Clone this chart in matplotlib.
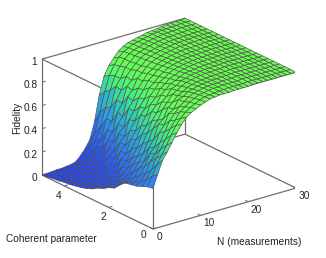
import numpy as np
import matplotlib
matplotlib.use("Agg")
import matplotlib.pyplot as plt
from matplotlib.colors import LinearSegmentedColormap
from mpl_toolkits.mplot3d import proj3d

plt.rcParams['font.family'] = ['Liberation Sans', 'DejaVu Sans']

n_values = list(range(0, 31))
alpha_values = [0, .25, .5, .75, 1, 1.25, 1.5, 1.75, 2, 2.25, 2.5, 2.75, 3, 3.25, 3.5, 3.75, 4, 4.25, 4.5, 4.75, 5]

fidelity = [
 [.35,.46,.57,.63,.70,.77,.83,.88,.91,.93,.95,.965,.98,.985,.99,.99,.99,.995,.995,.995,.995,1,1,1,1,1,1,1,1,1,1],
 [.34,.42,.51,.58,.65,.73,.80,.85,.89,.92,.94,.96,.975,.98,.985,.99,.99,.995,.995,.995,.995,1,1,1,1,1,1,1,1,1,1],
 [.32,.37,.44,.53,.60,.67,.75,.81,.87,.90,.93,.95,.97,.975,.985,.99,.99,.995,.995,.995,.995,1,1,1,1,1,1,1,1,1,1],
 [.30,.33,.39,.48,.53,.62,.70,.78,.83,.88,.91,.94,.96,.97,.98,.985,.99,.99,.995,.995,.995,1,1,1,1,1,1,1,1,1,1],
 [.29,.305,.35,.415,.51,.555,.67,.72,.81,.835,.905,.92,.95,.96,.975,.98,.985,.99,.99,.995,.995,1,1,1,1,1,1,1,1,1,1],
 [.28,.275,.305,.375,.42,.525,.59,.705,.74,.825,.86,.905,.925,.95,.965,.975,.98,.985,.99,.99,.995,.995,1,1,1,1,1,1,1,1,1],
 [.24,.255,.265,.325,.39,.46,.545,.645,.705,.785,.835,.89,.915,.94,.96,.97,.98,.985,.99,.99,.995,.995,1,1,1,1,1,1,1,1,1],
 [.19,.205,.245,.27,.35,.41,.505,.585,.68,.735,.815,.85,.905,.92,.95,.96,.975,.98,.985,.99,.99,.995,.995,1,1,1,1,1,1,1,1],
 [.17,.185,.195,.26,.29,.375,.445,.55,.615,.72,.765,.84,.875,.915,.93,.95,.97,.975,.98,.985,.99,.99,.995,.995,1,1,1,1,1,1,1],
 [.14,.145,.175,.20,.28,.315,.415,.48,.59,.66,.75,.795,.86,.89,.925,.94,.96,.97,.98,.985,.99,.99,.995,.995,1,1,1,1,1,1,1],
 [.12,.125,.135,.185,.21,.315,.345,.46,.52,.64,.69,.785,.83,.88,.905,.935,.955,.965,.975,.98,.985,.99,.99,.995,.995,1,1,1,1,1,1],
 [.09,.095,.125,.14,.20,.24,.345,.385,.50,.57,.68,.735,.82,.85,.895,.92,.945,.96,.97,.98,.985,.99,.99,.995,.995,1,1,1,1,1,1],
 [.07,.085,.085,.13,.15,.225,.26,.385,.425,.56,.62,.725,.78,.85,.88,.92,.94,.955,.965,.975,.98,.985,.99,.99,.995,.995,1,1,1,1,1],
 [.055,.058,.075,.085,.14,.16,.255,.295,.43,.47,.62,.675,.77,.82,.875,.90,.93,.95,.96,.97,.98,.985,.99,.99,.995,.995,1,1,1,1,1],
 [.045,.052,.052,.075,.095,.155,.18,.295,.335,.48,.53,.685,.73,.82,.855,.90,.925,.945,.955,.97,.975,.985,.99,.99,.995,.995,1,1,1,1,1],
 [.035,.038,.042,.048,.075,.10,.17,.205,.325,.38,.54,.605,.74,.78,.855,.88,.92,.94,.955,.965,.975,.98,.99,.99,.995,.995,1,1,1,1,1],
 [.03,.032,.03,.045,.048,.085,.11,.195,.235,.38,.44,.615,.685,.79,.835,.88,.915,.935,.95,.96,.97,.98,.985,.99,.99,.995,.995,1,1,1,1],
 [.02,.02,.022,.028,.045,.055,.095,.12,.225,.275,.44,.53,.695,.75,.835,.87,.91,.93,.945,.96,.97,.975,.985,.99,.99,.995,.995,1,1,1,1],
 [.015,.015,.02,.02,.03,.04,.06,.09,.15,.24,.35,.50,.64,.75,.82,.87,.905,.925,.94,.955,.965,.975,.98,.99,.99,.995,.995,1,1,1,1],
 [.005,.01,.01,.015,.02,.03,.04,.06,.10,.18,.28,.44,.60,.73,.81,.865,.90,.92,.94,.95,.96,.97,.98,.985,.99,.99,.995,.995,1,1,1],
 [0,0,.005,.01,.01,.015,.02,.03,.07,.12,.185,.33,.55,.70,.78,.83,.88,.91,.93,.94,.95,.96,.97,.975,.98,.985,.99,.99,.995,.995,1],
]

z_ticks = [0, .2, .4, .6, .8, 1]
z_tick_labels = ['0', '0.2', '0.4', '0.6', '0.8', '1']
alpha_ticks = [0, 2, 4]
n_ticks = [0, 10, 20, 30]

color_stops = ['#2440ff', '#2658fa', '#2a80f5', '#2aa8dc', '#30d4a8', '#48f474', '#60ff54', '#66ff4c']
stop_pos = [0, .2, .33, .46, .58, .7, .82, 1]
cmap = LinearSegmentedColormap.from_list('fid', list(zip(stop_pos, color_stops)))

W, H = 326, 258
fig = plt.figure(figsize=(W / 100, H / 100), dpi=100, facecolor='white')
ax = fig.add_axes([0, 0, 1, 1], projection='3d', proj_type='ortho', computed_zorder=False)
ax.view_init(elev=21.9, azim=-127.5)
ax.set_xlim(0, 30); ax.set_ylim(0, 5); ax.set_zlim(0, 1)
ax.set_axis_off()
ax.patch.set_alpha(0)

LINE = '#6e6e6e'
A_MAX = 5; N_MAX = 30
def seg(p, q, lw=0.9):
    ax.plot(*zip(p, q), color=LINE, lw=lw, zorder=1, solid_capstyle='butt')

seg((0, 0, 0), (N_MAX, 0, 0))
seg((0, 0, 0), (0, A_MAX, 0))
seg((N_MAX, 0, 0), (N_MAX, A_MAX, 0))
seg((0, A_MAX, 0), (N_MAX, A_MAX, 0))
seg((0, A_MAX, 0), (0, A_MAX, 1))
seg((N_MAX, 0, 0), (N_MAX, 0, 1))
seg((N_MAX, A_MAX, 0), (N_MAX, A_MAX, 1))
seg((0, 0, 0), (0, 0, 1))
seg((0, A_MAX, 1), (N_MAX, A_MAX, 1))
seg((0, A_MAX, 1), (0, 0, 1))
seg((N_MAX, 0, 1), (0, 0, 1))

for z in z_ticks:
    seg((0, A_MAX, z), (0.8, A_MAX, z), 0.7)
for a in alpha_ticks:
    seg((0, a, 0), (0.8, a, 0), 0.7)
for n in n_ticks:
    seg((n, 0, 0), (n, 0.14, 0), 0.7)

NN, AA = np.meshgrid(np.array(n_values, float), np.array(alpha_values, float))
ZZ = np.array(fidelity, float)
ax.plot_surface(NN, AA, ZZ, rstride=1, cstride=1, facecolors=cmap(ZZ), shade=False,
                edgecolor='#505050', linewidth=0.45, antialiased=True, zorder=5)

# Fit the cube to the reference frame: front corner and right corner
def px(p):
    x, y, _ = proj3d.proj_transform(*p, ax.get_proj())
    return ax.transData.transform((x, y))

target_O = np.array([153, H - 229.0])
target_B = np.array([296, H - 188.0])
zoom = 1.0
ax.set_box_aspect((180.3, 182.3, 125.0), zoom=zoom)
for _ in range(3):
    fig.canvas.draw()
    o, b = px((0, 0, 0)), px((N_MAX, 0, 0))
    zoom *= np.linalg.norm(target_B - target_O) / np.linalg.norm(b - o)
    ax.set_box_aspect((180.3, 182.3, 125.0), zoom=zoom)
    fig.canvas.draw()
    o = px((0, 0, 0))
    pos = ax.get_position()
    ax.set_position([pos.x0 + (target_O[0] - o[0]) / W, pos.y0 + (target_O[1] - o[1]) / H, pos.width, pos.height])
fig.canvas.draw()

TICK_FS = 7.3
TEXT = '#222222'
def label(p, s, **kw):
    x, y = px(p)
    fig.text(x / W, y / H, s, fontsize=TICK_FS, color=TEXT, **kw)

for z, lab in zip(z_ticks, z_tick_labels):
    label((-1.0, A_MAX, z - .012), lab, ha='right', va='center')
for a in [2, 4]:
    label((-1.2, a, -.07), str(a), ha='center', va='center')
label((-2.0, 0, -.03), '0', ha='center', va='center')
label((0, -.28, -.04), '0', ha='center', va='center')
for n in n_ticks[1:]:
    label((n, -.36, -.035), str(n), ha='center', va='center')

fig.text(17 / W, 1 - 118 / H, 'Fidelity', rotation=90, ha='center', va='center', fontsize=TICK_FS, color=TEXT)
fig.text(5.5 / W, 1 - 239 / H, 'Coherent parameter', ha='left', va='center', fontsize=TICK_FS, color=TEXT)
fig.text(217 / W, 1 - 242 / H, 'N (measurements)', ha='left', va='center', fontsize=TICK_FS, color=TEXT)

fig.savefig('out.png', dpi=100, facecolor='white')
